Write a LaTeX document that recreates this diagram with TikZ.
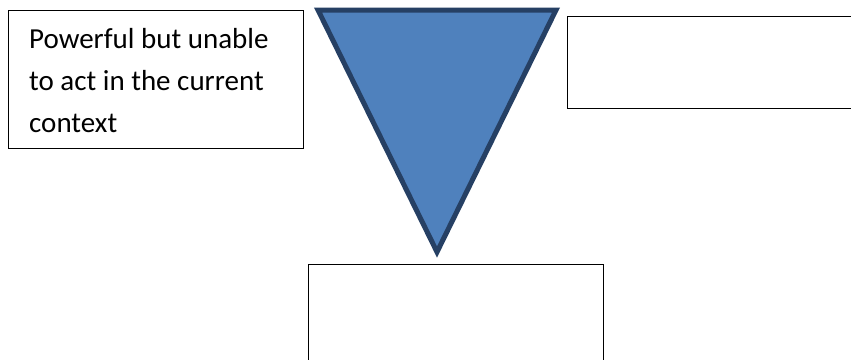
\documentclass[tikz,border=0pt]{standalone}
\usepackage{fontspec}
\setmainfont{Carlito}
\definecolor{triFill}{RGB}{79,129,189}
\definecolor{triLine}{RGB}{38,64,100}
\begin{document}
\begin{tikzpicture}[x=1pt,y=-1pt,
  box/.style={draw=black,line width=1.2pt,fill=white,anchor=north west,inner sep=0pt},
  lbl/.style={anchor=base west,align=left,inner sep=0pt,font=\fontsize{29}{42}\selectfont}]
\useasboundingbox (0,0) rectangle (851,359);
\clip (0,0) rectangle (851,359);
\fill[white] (0,0) rectangle (851,359);
% boxes
\node[box,minimum width=295pt,minimum height=138pt] (lbox) at (8,10) {};
\node[box,minimum width=300pt,minimum height=92pt] (rbox) at (567,16) {};
\node[box,minimum width=295pt,minimum height=110pt] (bbox) at (308,264) {};
\node[lbl] (ltext) at (29,132) {Powerful but unable\\to act in the current\\context};
% funnel triangle
\coordinate (tl) at (318,10);
\coordinate (tr) at (556,10);
\coordinate (tip) at (437,252);
\draw[fill=triFill,draw=triLine,line width=5pt,line join=miter] (tl) -- (tr) -- (tip) -- cycle;
\end{tikzpicture}
\end{document}
